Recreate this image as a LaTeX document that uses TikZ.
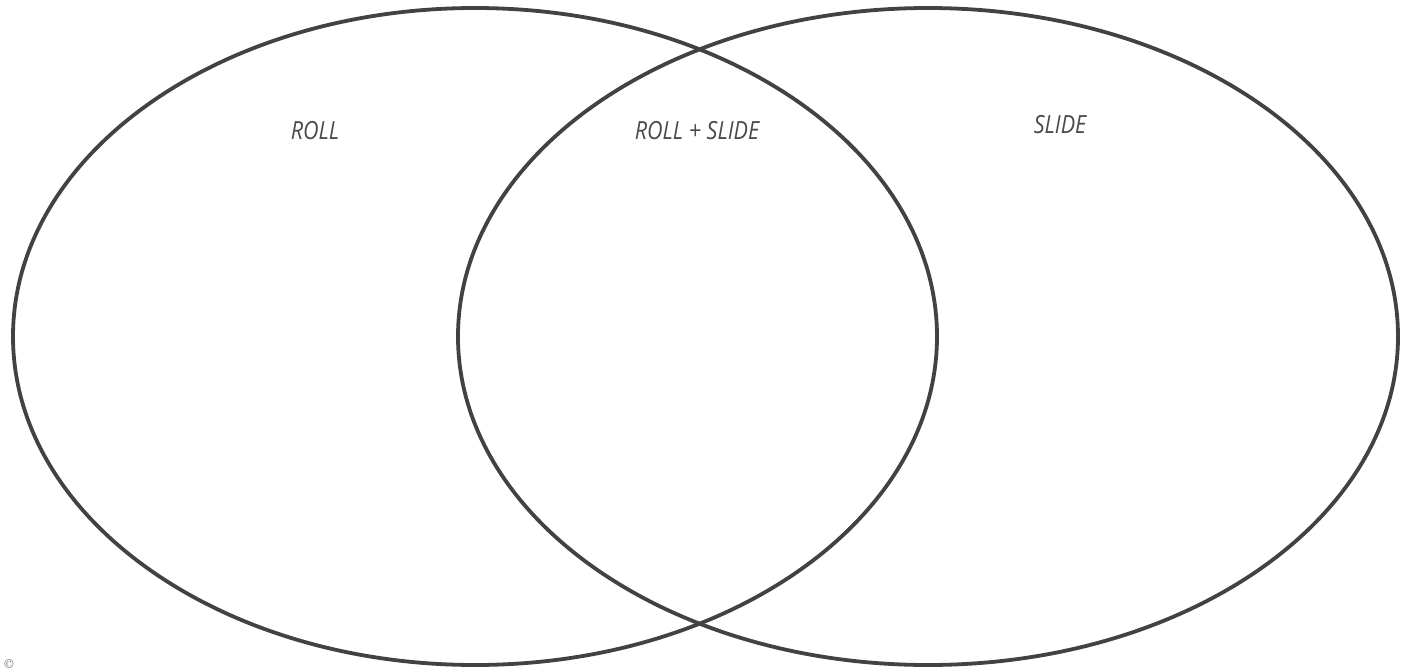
\documentclass[tikz,border=0pt]{standalone}
\usepackage{fontspec}
\newfontfamily\labfont[FakeStretch=0.86]{Open Sans}
\definecolor{ink}{HTML}{444240}
\definecolor{txt}{HTML}{4a4a4a}
\begin{document}
\begin{tikzpicture}[x=1pt,y=-1pt,
  circ/.style={draw=ink,line width=3.8pt},
  lab/.style={text=txt,font=\labfont\itshape\fontsize{25}{28}\selectfont,inner sep=0pt}]
\useasboundingbox[fill=white] (0,0) rectangle (1401,672);
\draw[circ] (475,336.5) ellipse [x radius=462, y radius=328.5];
\draw[circ] (928,336.5) ellipse [x radius=470, y radius=328.5];
\node[lab] (roll) at (315,131) {ROLL};
\node[lab] (both) at (697,131) {ROLL + SLIDE};
\node[lab] (slide) at (1060,125) {SLIDE};
\node[text=txt,font=\fontsize{13}{13}\selectfont,inner sep=0pt] (copy) at (9,664) {\char"00A9};
\end{tikzpicture}
\end{document}
